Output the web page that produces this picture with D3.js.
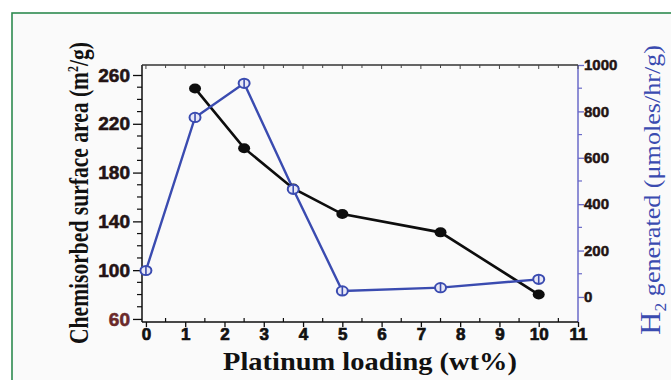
<!DOCTYPE html>
<html><head><meta charset="utf-8">
<script src="https://cdn.jsdelivr.net/npm/d3@7"></script>
<style>
body{margin:0;background:#fff}
</style></head>
<body><svg id="chart" width="671" height="380"></svg>
<script>
// Chemisorbed Pt surface area (left axis) and H2 evolution (right axis) vs Pt loading
const areaLoading = [1.25, 2.5, 3.75, 5, 7.5, 10];
const surfaceArea = [249, 200, 167, 146, 131, 80];
const h2Loading = [0, 1.25, 2.5, 3.75, 5, 7.5, 10];
const h2Generated = [114, 774, 921, 464, 26, 40, 76];
const xTicks = [0, 1, 2, 3, 4, 5, 6, 7, 8, 9, 10, 11];
const leftTicks = [60, 100, 140, 180, 220, 260];
const rightTicks = [0, 200, 400, 600, 800, 1000];

const svg = d3.select("#chart");
const W = 671, H = 380;
const plot = {left: 142, right: 578, top: 65, bottom: 322};

const x = d3.scaleLinear([-0.1, 11], [plot.left, plot.right]);
const yL = d3.scaleLinear([57.5, 268.2], [plot.bottom, plot.top]);
const yR = d3.scaleLinear([-108, 1000], [plot.bottom, plot.top]);

const black = "#0d0d0d";
const blue = "#3a4bb0";
const axisBlue = "#6a6ac8";
const sans = "'Liberation Sans',Arial,sans-serif";
const serif = "'Liberation Serif','Times New Roman',serif";

// panel background and green frame
svg.append("rect").attr("x", 0).attr("y", 0).attr("width", W).attr("height", H).attr("fill", "#ffffff");
svg.append("rect").attr("x", 12).attr("y", 13).attr("width", W).attr("height", H)
  .attr("fill", "#fafafa").attr("stroke", "#2e8b50").attr("stroke-width", 1.6);

function range(a, b, s) { const r = []; for (let v = a; v <= b + 1e-9; v += s) r.push(+v.toFixed(4)); return r; }

function styleTickText(sel, size, color, sw) {
  sel.style("font-family", sans).style("font-size", size + "px").style("font-weight", "bold")
    .attr("fill", color).attr("stroke", color).attr("stroke-width", sw);
}

// left axis
const gL = svg.append("g").attr("transform", `translate(${plot.left},0)`);
gL.call(d3.axisLeft(yL).tickValues(leftTicks).tickSize(9).tickPadding(3).tickFormat(d3.format("d")))
  .call(g => g.select(".domain").remove());
gL.append("line").attr("x1", 0).attr("x2", 0).attr("y1", plot.top).attr("y2", plot.bottom)
  .attr("stroke", black).attr("stroke-width", 1.5);
gL.selectAll(".minor").data(range(60, 260, 10).filter(v => leftTicks.indexOf(v) < 0))
  .join("line").attr("class", "minor").attr("x1", -5).attr("x2", 0)
  .attr("y1", d => yL(d)).attr("y2", d => yL(d)).attr("stroke", black).attr("stroke-width", 1.2);
gL.selectAll(".tick line").attr("stroke", black).attr("stroke-width", 1.3);
gL.selectAll(".tick text").each(function(d) {
  styleTickText(d3.select(this), 19, d === 60 ? "#6b2a2a" : "#241414", 0.6);
});

// right axis
const gR = svg.append("g").attr("transform", `translate(${plot.right},0)`);
gR.call(d3.axisRight(yR).tickValues(rightTicks).tickSize(6).tickPadding(0).tickFormat(d3.format("d")))
  .call(g => g.select(".domain").remove());
gR.append("line").attr("x1", 0).attr("x2", 0).attr("y1", plot.top).attr("y2", plot.bottom)
  .attr("stroke", axisBlue).attr("stroke-width", 1.5);
gR.selectAll(".minor").data(range(100, 900, 200))
  .join("line").attr("class", "minor").attr("x1", 0).attr("x2", 4)
  .attr("y1", d => yR(d)).attr("y2", d => yR(d)).attr("stroke", axisBlue).attr("stroke-width", 1.2);
gR.selectAll(".tick line").attr("stroke", axisBlue).attr("stroke-width", 1.3);
styleTickText(gR.selectAll(".tick text"), 15, "#241414", 0.5);

// bottom axis
const gB = svg.append("g").attr("transform", `translate(0,${plot.bottom})`);
gB.call(d3.axisBottom(x).tickValues(xTicks).tickSize(5).tickPadding(1).tickFormat(d3.format("d")))
  .call(g => g.select(".domain").remove());
gB.append("line").attr("x1", plot.left).attr("x2", plot.right).attr("y1", 0).attr("y2", 0)
  .attr("stroke", black).attr("stroke-width", 1.6);
gB.selectAll(".minor").data(range(0.5, 10.5, 1))
  .join("line").attr("class", "minor").attr("y1", -4).attr("y2", 0)
  .attr("x1", d => x(d)).attr("x2", d => x(d)).attr("stroke", black).attr("stroke-width", 1.2);
gB.selectAll(".tick line").attr("stroke", black).attr("stroke-width", 1.3);
styleTickText(gB.selectAll(".tick text"), 17, "#111", 0.7);

// top frame line with inward ticks
svg.append("line").attr("x1", plot.left).attr("x2", plot.right).attr("y1", plot.top).attr("y2", plot.top)
  .attr("stroke", "#333").attr("stroke-width", 1.3);
svg.selectAll(".topTick").data(range(0, 11, 0.5))
  .join("line").attr("class", "topTick").attr("x1", d => x(d)).attr("x2", d => x(d))
  .attr("y1", plot.top).attr("y2", d => plot.top + (d % 1 === 0 ? 4 : 3))
  .attr("stroke", "#444").attr("stroke-width", 1);

// surface area series
const areaPts = areaLoading.map((d, i) => [d, surfaceArea[i]]);
svg.append("path").datum(areaPts)
  .attr("d", d3.line().x(d => x(d[0])).y(d => yL(d[1])))
  .attr("fill", "none").attr("stroke", black).attr("stroke-width", 2.6);

// H2 series
const h2Pts = h2Loading.map((d, i) => [d, h2Generated[i]]);
svg.append("path").datum(h2Pts)
  .attr("d", d3.line().x(d => x(d[0])).y(d => yR(d[1])))
  .attr("fill", "none").attr("stroke", blue).attr("stroke-width", 2.4);

svg.selectAll(".areaMark").data(areaPts).join("ellipse").attr("class", "areaMark")
  .attr("cx", d => x(d[0])).attr("cy", d => yL(d[1])).attr("rx", 6).attr("ry", 5)
  .attr("fill", black);

const h2Marks = svg.selectAll(".h2Mark").data(h2Pts).join("g").attr("class", "h2Mark")
  .attr("transform", d => `translate(${x(d[0])},${yR(d[1])})`);
h2Marks.append("ellipse").attr("rx", 5.5).attr("ry", 4.6).attr("fill", "#e8e8f6")
  .attr("stroke", blue).attr("stroke-width", 2);
h2Marks.append("line").attr("x1", 0).attr("x2", 0).attr("y1", -4).attr("y2", 4)
  .attr("stroke", blue).attr("stroke-width", 1.6);

// axis titles
const lt = svg.append("text").attr("transform", "translate(88,193) rotate(-90)")
  .attr("text-anchor", "middle").attr("fill", "#111")
  .attr("textLength", 302).attr("lengthAdjust", "spacingAndGlyphs")
  .style("font-family", serif).style("font-weight", "bold").style("font-size", "27px");
lt.append("tspan").text("Chemisorbed surface area (m");
lt.append("tspan").attr("dy", -10).style("font-size", "15px").text("2");
lt.append("tspan").attr("dy", 10).text("/g)");

svg.append("text").attr("x", 370).attr("y", 370)
  .attr("text-anchor", "middle").attr("fill", "#111")
  .attr("textLength", 294).attr("lengthAdjust", "spacingAndGlyphs")
  .style("font-family", serif).style("font-weight", "bold").style("font-size", "26px")
  .text("Platinum loading (wt%)");

const rt = svg.append("text").attr("transform", "translate(660,190) rotate(-90)")
  .attr("text-anchor", "middle").attr("fill", blue)
  .attr("textLength", 290).attr("lengthAdjust", "spacingAndGlyphs")
  .style("font-family", serif).style("font-size", "24px");
rt.append("tspan").style("font-size", "30px").text("H");
rt.append("tspan").style("font-size", "16px").attr("dy", 6).text("2");
rt.append("tspan").attr("dy", -6).text(" generated (\u03bcmoles/hr/g)");
</script>
</body></html>
